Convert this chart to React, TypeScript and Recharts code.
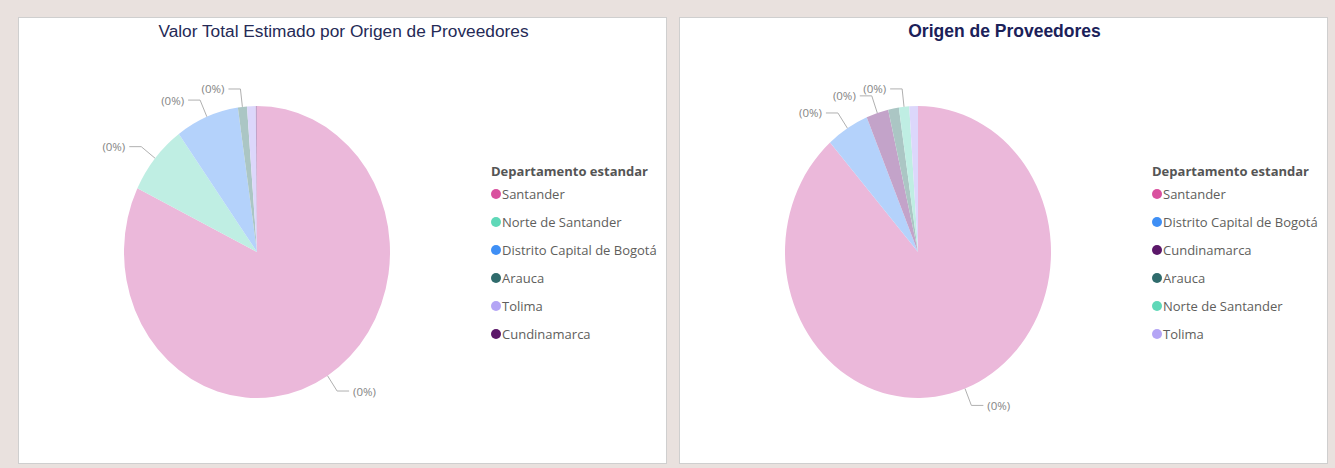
import React from "react";
import { PieChart, Pie, Cell, Legend } from "recharts";

const leftTitle = "Valor Total Estimado por Origen de Proveedores";
const rightTitle = "Origen de Proveedores";
const legendTitle = "Departamento estandar";
const labelText = "(0%)";

const leftNames = ["Santander", "Norte de Santander", "Distrito Capital de Bogotá", "Arauca", "Tolima", "Cundinamarca"];
const leftValues = [82.2, 7.8, 7.7, 1.1, 1.05, 0.15];
const leftLabeled = [0, 1, 2, 3];

const rightNames = ["Santander", "Distrito Capital de Bogotá", "Cundinamarca", "Arauca", "Norte de Santander", "Tolima"];
const rightValues = [88.5, 5.2, 2.7, 1.3, 1.25, 1.05];
const rightLabeled = [0, 1, 2, 4];

const sliceColors: Record<string, string> = {
  "Santander": "#ebb8da",
  "Norte de Santander": "#bfeee3",
  "Distrito Capital de Bogotá": "#b4d2fb",
  "Arauca": "#abc6c4",
  "Tolima": "#dcd7fb",
  "Cundinamarca": "#c3a3c9",
};
const dotColors: Record<string, string> = {
  "Santander": "#d9519f",
  "Norte de Santander": "#5fd8b8",
  "Distrito Capital de Bogotá": "#3f8ff5",
  "Arauca": "#2f6b6c",
  "Tolima": "#b4a5f5",
  "Cundinamarca": "#5b1769",
};

const PANEL_W = 649;
const PANEL_H = 447;
const CX = 239;
const CY = 235;
const RY = 146;
const RX = 133;
const RAD = Math.PI / 180;

const makeLabel = (shown: number[]) => (props: any) => {
  const { cx, cy, midAngle, index } = props;
  if (!shown.includes(index)) return null;
  const c = Math.cos(midAngle * RAD);
  const s = Math.sin(midAngle * RAD);
  const x0 = cx + RX * c;
  const y0 = cy - RY * s;
  const d = 18;
  const x1 = cx + (RX + d) * c;
  const y1 = cy - (RY + d) * s;
  const right = c >= 0;
  const x2 = x1 + (right ? 12 : -12);
  return (
    <g>
      <polyline points={`${x0},${y0} ${x1},${y1} ${x2},${y1}`} fill="none" stroke="#b0b0b0" strokeWidth={1} />
      <text x={x2 + (right ? 4 : -4)} y={y1} textAnchor={right ? "start" : "end"} dominantBaseline="central"
        fontFamily="'Open Sans', sans-serif" fontSize={11.5} fill="#858585">{labelText}</text>
    </g>
  );
};

const LegendBox = ({ names }: { names: string[] }) => (
  <div style={{ fontFamily: "'Open Sans', sans-serif", fontSize: 13, color: "#605e5c" }}>
    <div style={{ fontWeight: 700, height: 20, lineHeight: "20px", color: "#555", whiteSpace: "nowrap" }}>{legendTitle}</div>
    {names.map((n, i) => (
      <div key={n} style={{ position: "absolute", top: 23 + i * 28, left: 0, height: 20, lineHeight: "20px", display: "flex", alignItems: "center", whiteSpace: "nowrap" }}>
        <span style={{ display: "inline-block", width: 10, height: 10, borderRadius: 5, background: dotColors[n], marginRight: 1 }} />
        <span>{n}</span>
      </div>
    ))}
  </div>
);

const Panel = ({ left, title, bold, names, values, labeled, cls }: any) => {
  const data = names.map((n: string, i: number) => ({ name: n, value: values[i] }));
  return (
    <div className={cls} style={{ position: "absolute", left, top: 17, width: PANEL_W, height: PANEL_H, background: "#fff", border: "1px solid #cfcfcf", boxSizing: "border-box" }}>
      <div style={{ position: "absolute", left: 0, top: 3, width: PANEL_W, textAlign: "center", fontFamily: "'Liberation Sans', Arial, sans-serif", fontSize: bold ? 17.5 : 17.3, fontWeight: bold ? 700 : 400, color: bold ? "#1b2159" : "#252a56", lineHeight: "20px" }}>{title}</div>
      <div style={{ position: "absolute", left: -1, top: -1 }}>
        <PieChart width={PANEL_W} height={PANEL_H} margin={{ top: 0, right: 0, bottom: 0, left: 0 }}>
          <Pie data={data} dataKey="value" nameKey="name" cx={CX} cy={CY} outerRadius={RY} innerRadius={0}
            startAngle={90} endAngle={-270} stroke="none" isAnimationActive={false}
            labelLine={false} label={makeLabel(labeled)}>
            {data.map((d: any) => <Cell key={d.name} fill={sliceColors[d.name]} stroke="none" />)}
          </Pie>
          <Legend layout="vertical" content={() => <LegendBox names={names} />}
            wrapperStyle={{ position: "absolute", left: 473, top: 144, width: 180, height: 200 }} />
        </PieChart>
      </div>
    </div>
  );
};

export default function App() {
  return (
    <div style={{ position: "absolute", left: 0, top: 0, width: 1335, height: 468, background: "#e9e1de", overflow: "hidden" }}>
      <style>{`.ellpie path.recharts-sector { transform-box: view-box; transform-origin: ${CX}px ${CY}px; transform: scaleX(${RX / RY}); }`}</style>
      <Panel left={18} title={leftTitle} bold={false} names={leftNames} values={leftValues} labeled={leftLabeled} cls="ellpie" />
      <Panel left={679} title={rightTitle} bold={true} names={rightNames} values={rightValues} labeled={rightLabeled} cls="ellpie" />
    </div>
  );
}
